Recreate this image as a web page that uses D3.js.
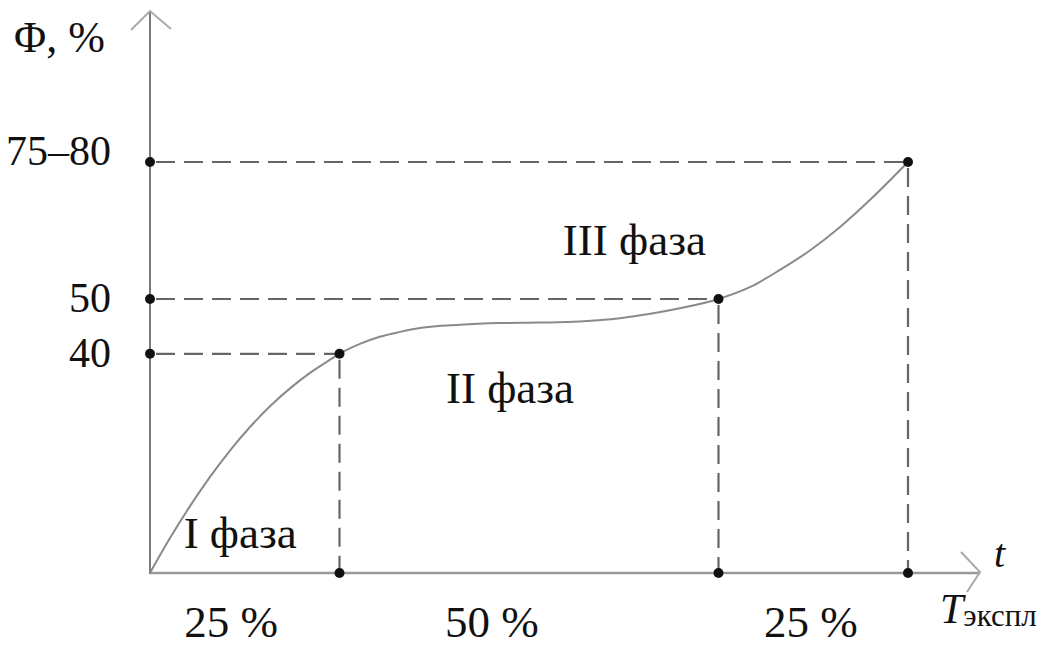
<!DOCTYPE html>
<html>
<head>
    <meta charset="utf-8">
    <style>
        body { margin: 0; background: #fff; }
        text { font-family: "Liberation Serif", "DejaVu Serif", serif; fill: #111; }
    </style>
</head>
<body>
    <svg width="1043" height="646"></svg>
    <script src="https://d3js.org/d3.v7.min.js"></script>
    <script>
        // curve Φ(t), t in % of service life
        let curveT =   [0, 2.64, 5.28, 7.92, 10.55, 13.19, 15.83, 18.47, 21.11, 23.75, 25,
                        27.7, 30.3, 33.0, 35.6, 40.9, 46.2, 51.5, 56.7, 62.0, 66.0, 69.9, 75,
                        79.2, 83.1, 87.1, 91.0, 95.0, 100];
        let curvePhi = [0, 6.37, 12.21, 17.54, 22.35, 26.64, 30.42, 33.69, 36.51, 38.92, 40,
                        41.8, 43.1, 44.0, 44.7, 45.3, 45.6, 45.7, 45.9, 46.5, 47.3, 48.3, 50,
                        52.2, 55.3, 58.9, 63.1, 68.1, 75];

        // key points at phase boundaries
        let keyT = [25, 75, 100];
        let keyPhi = [40, 50, 75];
        let phiLabels = ["40", "50", "75–80"];

        // phase share labels under the t axis
        let shareLabels = ["25 %", "50 %", "25 %"];
        let shareAt = [10.7, 45.1, 87.2];

        // phase names inside the plot
        let phaseNames = ["I фаза", "II фаза", "III фаза"];
        let phaseAtT = [11.9, 47.5, 63.9];
        let phaseAtPhi = [4.5, 31, 58];

        let svg = d3.select("svg");
        let x = d3.scaleLinear().domain([0, 100]).range([150, 908]);
        let y = d3.scaleLinear().domain([0, 50]).range([573, 299]);

        let grey = "#7a7a7a";

        // axes lines with open arrowheads
        svg.append("line").attr("x1", x(0)).attr("y1", y(0) + 1).attr("x2", x(0)).attr("y2", 11)
            .attr("stroke", grey).attr("stroke-width", 2);
        svg.append("path").attr("d", "M131,30 L150,11 L171,29")
            .attr("fill", "none").attr("stroke", "#aaa").attr("stroke-width", 2);
        svg.append("line").attr("x1", x(0)).attr("y1", y(0)).attr("x2", 980).attr("y2", y(0))
            .attr("stroke", "#999").attr("stroke-width", 2.5);
        svg.append("path").attr("d", "M961,552 L980,572 L967,592")
            .attr("fill", "none").attr("stroke", "#aaa").attr("stroke-width", 2);

        // Φ tick labels via axis
        let yAxis = d3.axisLeft(y)
            .tickValues(keyPhi)
            .tickSize(0)
            .tickPadding(39)
            .tickFormat(function(d, i) { return phiLabels[i]; });
        let ya = svg.append("g").attr("transform", "translate(" + x(0) + ",0)").call(yAxis);
        ya.select(".domain").remove();
        ya.selectAll("text")
            .attr("font-family", "Liberation Serif")
            .attr("font-size", 42)
            .attr("fill", "#111")
            .attr("dy", function(d, i) { return i === 2 ? "0.05em" : "0.3em"; });

        // dashed guides
        let guides = svg.append("g").attr("stroke", "#666").attr("stroke-width", 2.2)
            .attr("stroke-dasharray", "19,9");
        keyT.forEach(function(t, i) {
            guides.append("line").attr("x1", x(0) + 6).attr("y1", y(keyPhi[i]))
                .attr("x2", x(t)).attr("y2", y(keyPhi[i]));
            guides.append("line").attr("x1", x(t)).attr("y1", y(keyPhi[i]) + 6)
                .attr("x2", x(t)).attr("y2", y(0));
        });

        // the curve
        let line = d3.line()
            .x(function(d) { return x(d[0]); })
            .y(function(d) { return y(d[1]); })
            .curve(d3.curveMonotoneX);
        svg.append("path")
            .datum(d3.zip(curveT, curvePhi))
            .attr("d", line)
            .attr("fill", "none")
            .attr("stroke", "#8a8a8a")
            .attr("stroke-width", 2);

        // dots
        let dots = [];
        keyT.forEach(function(t, i) {
            dots.push([0, keyPhi[i]], [t, keyPhi[i]], [t, 0]);
        });
        svg.selectAll("circle").data(dots).enter().append("circle")
            .attr("cx", function(d) { return x(d[0]); })
            .attr("cy", function(d) { return y(d[1]); })
            .attr("r", 5)
            .attr("fill", "#111");

        // phase names
        svg.selectAll("text.phase").data(phaseNames).enter().append("text")
            .attr("class", "phase")
            .attr("x", function(d, i) { return x(phaseAtT[i]); })
            .attr("y", function(d, i) { return y(phaseAtPhi[i]); })
            .attr("text-anchor", "middle")
            .attr("font-size", 45)
            .text(function(d) { return d; });

        // share labels
        svg.selectAll("text.share").data(shareLabels).enter().append("text")
            .attr("class", "share")
            .attr("x", function(d, i) { return x(shareAt[i]); })
            .attr("y", 637)
            .attr("text-anchor", "middle")
            .attr("font-size", 45)
            .text(function(d) { return d; });

        // axis titles
        svg.append("text").attr("x", 14).attr("y", 52).attr("font-size", 44).text("Φ, %");
        svg.append("text").attr("x", 994).attr("y", 567).attr("font-size", 40)
            .attr("font-style", "italic").text("t");
        let tl = svg.append("text").attr("x", 940).attr("y", 623).attr("font-size", 42);
        tl.append("tspan").attr("font-style", "italic").text("T");
        tl.append("tspan").attr("font-size", 31).attr("dy", 3).text("экспл");
    </script>
</body>
</html>
